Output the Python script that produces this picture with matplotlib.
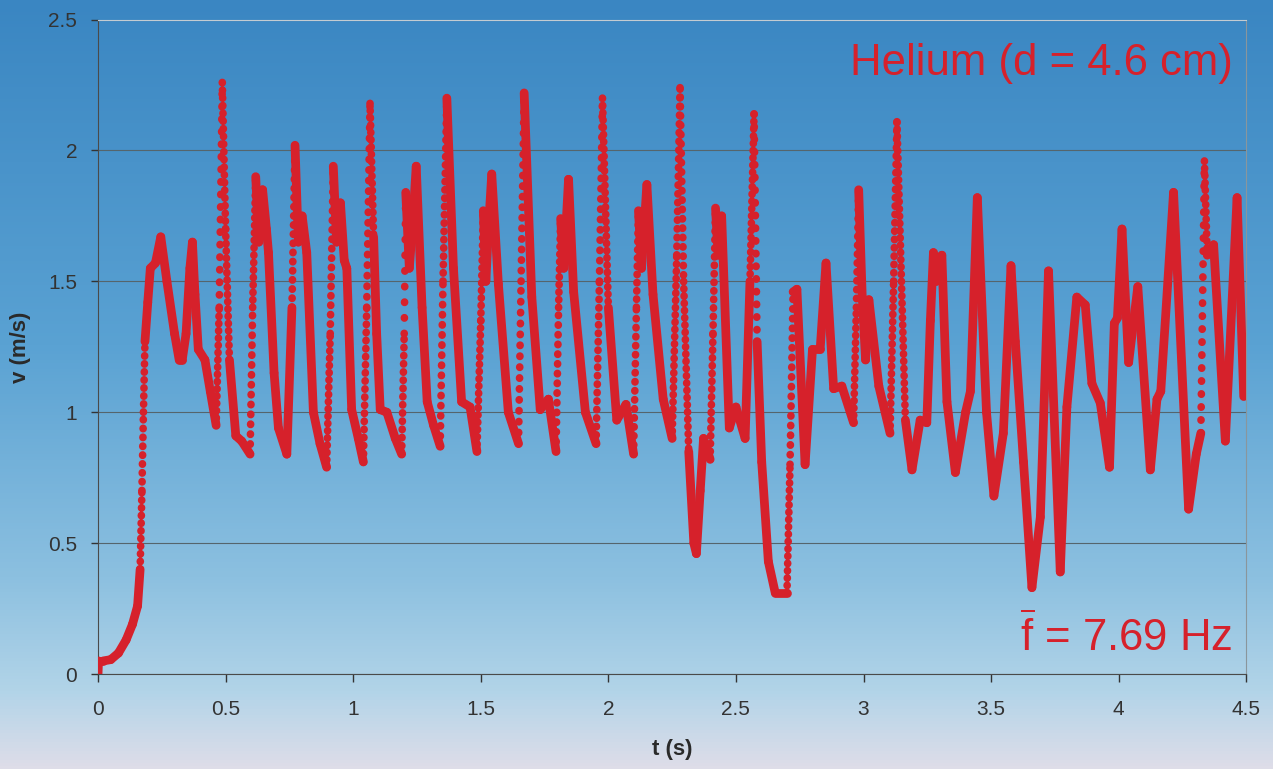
import numpy as np
from matplotlib import pyplot as plt
from matplotlib.collections import LineCollection
from matplotlib.colors import LinearSegmentedColormap

plt.rcParams['font.family'] = ['Liberation Sans', 'DejaVu Sans']
plt.rcParams['mathtext.fontset'] = 'custom'
plt.rcParams['mathtext.rm'] = 'Liberation Sans'

t_s = [0.000, 0.002, 0.02, 0.05, 0.08, 0.11, 0.135, 0.155, 0.165, 0.172, 0.178, 0.184, 0.195, 0.205,
       0.225, 0.246, 0.27, 0.30, 0.318, 0.33, 0.345, 0.36, 0.370, 0.38, 0.393, 0.419, 0.44, 0.463,
       0.475, 0.487, 0.50, 0.515, 0.540, 0.563, 0.596,
       0.606, 0.618, 0.63, 0.645, 0.66, 0.668, 0.69, 0.707, 0.740,
       0.760, 0.772, 0.785, 0.80, 0.818, 0.844, 0.87, 0.896,
       0.910, 0.922, 0.935, 0.95, 0.965, 0.975, 0.994, 1.02, 1.040,
       1.053, 1.066, 1.080, 1.092, 1.106, 1.132, 1.165, 1.190,
       1.200, 1.206, 1.22, 1.235, 1.247, 1.27, 1.290, 1.315, 1.341,
       1.352, 1.367, 1.393, 1.425, 1.458, 1.485,
       1.50, 1.51, 1.52, 1.53, 1.543, 1.569, 1.608, 1.648,
       1.658, 1.670, 1.700, 1.733, 1.765, 1.795,
       1.805, 1.813, 1.825, 1.844, 1.864, 1.910, 1.952,
       1.965, 1.977, 2.000, 2.033, 2.069, 2.099,
       2.11, 2.118, 2.13, 2.151, 2.175, 2.215, 2.250,
       2.268, 2.281, 2.295, 2.315, 2.335, 2.345, 2.36, 2.373, 2.399, 2.41, 2.42, 2.43, 2.444,
       2.474, 2.50, 2.536,
       2.555, 2.571, 2.583, 2.601, 2.627, 2.654, 2.700, 2.712, 2.724, 2.739, 2.771, 2.80, 2.830,
       2.853, 2.883, 2.915, 2.961,
       2.972, 2.981, 2.995, 3.008, 3.021, 3.06, 3.104,
       3.118, 3.131, 3.164, 3.19, 3.222, 3.248, 3.262, 3.274, 3.285, 3.307, 3.327, 3.360, 3.40,
       3.419, 3.446, 3.482, 3.511, 3.548, 3.578, 3.595, 3.627, 3.660, 3.693,
       3.725, 3.771, 3.797, 3.836, 3.869, 3.895, 3.928, 3.964, 3.983, 3.995, 4.013, 4.039, 4.075,
       4.124, 4.15, 4.165, 4.215, 4.274, 4.304, 4.322, 4.336, 4.347, 4.372, 4.418, 4.464, 4.49]

v_ms = [0.00, 0.05, 0.05, 0.055, 0.08, 0.13, 0.19, 0.26, 0.40, 0.70, 1.00, 1.27, 1.42, 1.55,
        1.57, 1.67, 1.50, 1.30, 1.20, 1.20, 1.30, 1.55, 1.65, 1.45, 1.24, 1.20, 1.08, 0.95,
        1.40, 2.26, 1.70, 1.20, 0.91, 0.89, 0.84,
        1.40, 1.90, 1.65, 1.85, 1.70, 1.61, 1.15, 0.94, 0.84,
        1.40, 2.02, 1.65, 1.75, 1.61, 1.00, 0.88, 0.79,
        1.30, 1.94, 1.65, 1.80, 1.58, 1.55, 1.01, 0.90, 0.81,
        1.40, 2.18, 1.67, 1.30, 1.01, 1.00, 0.90, 0.84,
        1.30, 1.84, 1.55, 1.75, 1.94, 1.40, 1.04, 0.95, 0.87,
        1.50, 2.20, 1.55, 1.04, 1.02, 0.85,
        1.35, 1.77, 1.50, 1.70, 1.91, 1.49, 1.00, 0.88,
        1.50, 2.22, 1.44, 1.01, 1.05, 0.85,
        1.40, 1.74, 1.55, 1.89, 1.46, 1.00, 0.88,
        1.50, 2.20, 1.40, 0.97, 1.03, 0.84,
        1.40, 1.77, 1.55, 1.87, 1.45, 1.05, 0.90,
        1.60, 2.24, 1.50, 0.85, 0.50, 0.46, 0.70, 0.90, 0.82, 1.30, 1.78, 1.60, 1.75,
        0.94, 1.02, 0.90,
        1.50, 2.14, 1.27, 0.81, 0.43, 0.31, 0.31, 0.80, 1.46, 1.47, 0.80, 1.24, 1.24,
        1.57, 1.09, 1.10, 0.96,
        1.40, 1.85, 1.44, 1.20, 1.43, 1.10, 0.92,
        1.50, 2.11, 0.97, 0.78, 0.97, 0.96, 1.35, 1.61, 1.50, 1.60, 1.04, 0.77, 1.00,
        1.08, 1.82, 1.00, 0.68, 0.92, 1.56, 1.27, 0.81, 0.33, 0.60,
        1.54, 0.39, 1.02, 1.44, 1.41, 1.11, 1.035, 0.79, 1.34, 1.36, 1.70, 1.19, 1.48,
        0.78, 1.05, 1.08, 1.84, 0.63, 0.84, 0.92, 1.96, 1.60, 1.64, 0.89, 1.82, 1.06]

x_ticks = [0, 0.5, 1, 1.5, 2, 2.5, 3, 3.5, 4, 4.5]
x_labels = ['0', '0.5', '1', '1.5', '2', '2.5', '3', '3.5', '4', '4.5']
y_ticks = [0, 0.5, 1, 1.5, 2, 2.5]
y_labels = ['0', '0.5', '1', '1.5', '2', '2.5']

red = '#d6212b'

fig = plt.figure(figsize=(12.73, 7.69), dpi=100)

# scanned-paper background: blue fading to pale at the bottom
bg = fig.add_axes([0, 0, 1, 1], zorder=-10)
bg_cmap = LinearSegmentedColormap.from_list('paper', [
    (0.0, '#3a86c2'), (0.45, '#5aa2d3'), (0.75, '#8cc0e0'),
    (0.9, '#b2d4e8'), (1.0, '#dedde8')])
bg.imshow(np.linspace(0, 1, 256).reshape(-1, 1), aspect='auto', cmap=bg_cmap,
          extent=[0, 1, 0, 1], origin='upper')
bg.axis('off')

ax = fig.add_axes([0.077, 0.1235, 0.902, 0.851])
ax.patch.set_alpha(0)

t = np.array(t_s)
v = np.array(v_ms)
pts = np.column_stack([t, v])
segs = np.stack([pts[:-1], pts[1:]], axis=1)
slope = np.abs(np.diff(v) / np.diff(t))
steep = slope > 32
gaps = np.clip(slope[steep] / 45, 0.9, 2.0)

ax.add_collection(LineCollection(segs[~steep], colors=red, linewidths=6.3,
                                 capstyle='round', joinstyle='round', zorder=3))
ax.add_collection(LineCollection(segs[steep], colors=red, linewidths=5.5,
                                 linestyles=[(0, (0.05, g)) for g in gaps],
                                 capstyle='round', zorder=3))

ax.set_xlim(0, 4.5)
ax.set_ylim(0, 2.5)
ax.set_xticks(x_ticks)
ax.set_xticklabels(x_labels)
ax.set_yticks(y_ticks)
ax.set_yticklabels(y_labels)
ax.tick_params(axis='both', labelsize=15, colors='#333333', length=6, width=1, direction='out')
ax.tick_params(axis='x', pad=13)
ax.tick_params(axis='y', length=5, pad=10)
ax.grid(axis='y', color='#55656c', linewidth=0.8)
ax.set_axisbelow(True)

ax.spines['left'].set_color('#4a4a4a')
ax.spines['bottom'].set_color('#4a4a4a')
ax.spines['top'].set_color('#c4ccd2')
ax.spines['right'].set_color('#8a969c')

ax.set_xlabel('t (s)', fontsize=16, fontweight='bold', color='#2a2a2a', labelpad=14)
ax.set_ylabel('v (m/s)', fontsize=16, fontweight='bold', color='#2a2a2a', labelpad=12)

ax.text(0.988, 0.964, 'Helium (d = 4.6 cm)', transform=ax.transAxes, ha='right', va='top',
        fontsize=31.5, color=red)
ax.text(0.988, 0.022, r'$\overline{\mathrm{f}}$ = 7.69 Hz', transform=ax.transAxes, ha='right',
        va='bottom', fontsize=31.5, color=red)

plt.savefig('out.png', dpi=100)
